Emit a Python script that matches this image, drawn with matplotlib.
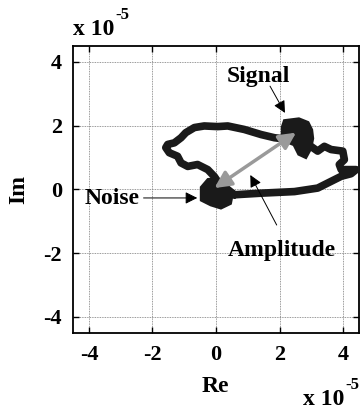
import matplotlib
matplotlib.use("Agg")
import matplotlib.pyplot as plt
import numpy as np

# ---- data (units of 1e-5) ----
trace_re = [0.58, 0.05, -0.05, -0.26, -0.58, -0.89, -1.10, -1.21, -1.47, -1.58, -1.52,
            -1.31, -1.10, -0.95, -0.68, -0.37, 0.05, 0.37, 0.89, 1.42, 1.84, 2.26,
            2.6, 3.0, 3.2, 3.41, 3.62, 3.99, 4.04, 3.88, 3.94, 4.41, 4.25, 3.94,
            3.62, 3.2, 2.47, 1.42, 0.58]
trace_im = [-0.17, 0.25, 0.40, 0.62, 0.78, 0.72, 0.83, 1.04, 1.15, 1.31, 1.41,
            1.46, 1.62, 1.78, 1.94, 1.99, 1.97, 1.99, 1.88, 1.72, 1.62, 1.57,
            1.6, 1.34, 1.2, 1.35, 1.25, 1.2, 0.93, 0.78, 0.62, 0.62, 0.49, 0.41,
            0.25, 0.04, -0.07, -0.12, -0.17]

signal_blob_re = [2.2, 2.6, 2.85, 2.95, 2.98, 2.92, 2.8, 2.65, 2.5, 2.25, 2.15, 2.15]
signal_blob_im = [2.1, 2.15, 2.05, 1.85, 1.6, 1.3, 1.08, 1.15, 1.45, 1.55, 1.7, 1.95]

noise_blob_re = [-0.40, -0.22, 0.03, 0.22, 0.45, 0.40, 0.15, -0.14, -0.40]
noise_blob_im = [0.04, 0.25, 0.28, 0.05, -0.14, -0.40, -0.52, -0.43, -0.30]

signal_pt = (2.52, 1.78)
noise_pt = (-0.05, 0.04)

ticks = [-4, -2, 0, 2, 4]
tick_labels = ["-4", "-2", "0", "2", "4"]

plt.rcParams['font.family'] = ['Liberation Serif', 'DejaVu Serif']
fig = plt.figure(figsize=(3.6, 4.12), dpi=100)
ax = fig.add_axes([73/360, 1-332.7/412, (359-73)/360, (332.7-46)/412])

ax.set_xlim(-4.5, 4.5)
ax.set_ylim(-4.5, 4.5)
ax.set_xticks(ticks)
ax.set_yticks(ticks)
ax.set_xticklabels(tick_labels, fontsize=16, fontweight='bold')
ax.set_yticklabels(tick_labels, fontsize=16, fontweight='bold')
ax.tick_params(axis='x', direction='in', length=4, width=1, top=True, pad=9)
ax.tick_params(axis='y', direction='in', length=4, width=1, right=True, pad=8)
ax.grid(True, color='#777777', linestyle=(0, (1, 1)), linewidth=0.6)
for s in ax.spines.values():
    s.set_linewidth(1.3)

ax.plot(trace_re, trace_im, color='#1a1a1a', lw=5.5, solid_capstyle='round',
        solid_joinstyle='round', zorder=3)
ax.fill(signal_blob_re, signal_blob_im, color='#1a1a1a', lw=5, ec='#1a1a1a', zorder=3)
ax.fill(noise_blob_re, noise_blob_im, color='#1a1a1a', lw=5, ec='#1a1a1a', zorder=3)

ax.annotate('', xy=signal_pt, xytext=noise_pt,
            arrowprops=dict(arrowstyle='<|-|>,head_length=0.5,head_width=0.25',
                            color='#9a9a9a', lw=2.5,
                            mutation_scale=20, shrinkA=0, shrinkB=0), zorder=4)

tfont = dict(fontsize=17, fontweight='bold', ha='center', va='center')
arrow_kw = dict(arrowstyle='-|>,head_length=0.6,head_width=0.3', color='black', lw=0.7,
                mutation_scale=12, shrinkA=0, shrinkB=0)

ax.text(1.34, 3.53, 'Signal', **tfont)
ax.annotate('', xy=(2.17, 2.40), xytext=(1.70, 3.24), arrowprops=arrow_kw)
ax.text(-3.27, -0.30, 'Noise', **tfont)
ax.annotate('', xy=(-0.59, -0.27), xytext=(-2.28, -0.27), arrowprops=arrow_kw)
ax.text(2.06, -1.91, 'Amplitude', **tfont)
ax.annotate('', xy=(1.08, 0.45), xytext=(1.91, -1.12), arrowprops=arrow_kw)

ax.set_xlabel('Re', fontsize=17, fontweight='bold')
ax.xaxis.set_label_coords((215.7-73)/286, -(386-332.7)/286.7, transform=ax.transAxes)
ax.xaxis.label.set_va('center')
ax.set_ylabel('Im', fontsize=17, fontweight='bold')
ax.yaxis.set_label_coords(-(73-19)/286, (332.7-190)/286.7, transform=ax.transAxes)
ax.yaxis.label.set_va('center')

fig.text(73/360, 1-35/412, 'x 10', fontsize=17, fontweight='bold', ha='left', va='baseline')
fig.text(115/360, 1-19/412, '-5', fontsize=12, fontweight='bold', ha='left', va='baseline')
fig.text(303/360, 1-405/412, 'x 10', fontsize=17, fontweight='bold', ha='left', va='baseline')
fig.text(345/360, 1-389/412, '-5', fontsize=12, fontweight='bold', ha='left', va='baseline')

fig.savefig('out.png', dpi=100)
